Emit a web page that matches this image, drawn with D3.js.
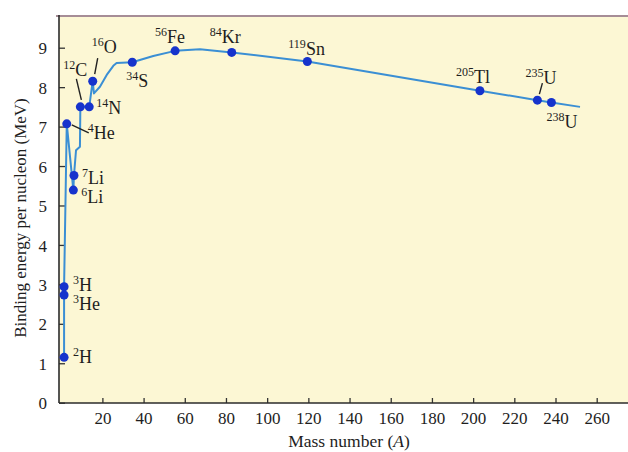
<!DOCTYPE html>
<html>
<head>
<meta charset="utf-8">
<script src="https://cdn.jsdelivr.net/npm/d3@7/dist/d3.min.js"></script>
<style>
  html, body { margin: 0; padding: 0; background: #ffffff; }
  svg { display: block; }
  text { font-family: "Liberation Serif", "Times New Roman", serif; fill: #1e1e1e; }
</style>
</head>
<body>
<svg id="chart" width="628" height="452"></svg>
<script>
// ---- data ----
const symbols     = ["H", "H", "He", "He", "Li", "Li", "C", "N", "O", "S", "Fe", "Kr", "Sn", "Tl", "U", "U"];
const massNumbers = ["2", "3", "3", "4", "6", "7", "12", "14", "16", "34", "56", "84", "119", "205", "235", "238"];
const pointA      = [1.4, 1.4, 1.4, 2.7, 5.9, 6.2, 9.3, 13.6, 15.3, 34.5, 55.3, 82.8, 119.5, 203.3, 231.2, 238.0];
const pointBE     = [1.15, 2.94, 2.73, 7.07, 5.39, 5.76, 7.50, 7.50, 8.15, 8.63, 8.92, 8.88, 8.65, 7.91, 7.67, 7.61];

// binding-energy curve traced through the nuclides
const curveA  = [1.4, 1.4, 1.4, 2.7, 5.9, 6.2, 7.2, 9.1, 9.3, 13.6, 15.3, 15.9, 18.8, 22.1, 25.3, 26.9, 34.5, 44.7, 55.3, 67.4, 82.8, 119.5, 203.3, 231.2, 238.0, 251.9];
const curveBE = [1.15, 2.73, 2.94, 7.07, 5.39, 5.76, 6.40, 6.49, 7.50, 7.50, 8.15, 7.84, 8.01, 8.31, 8.54, 8.61, 8.63, 8.79, 8.92, 8.96, 8.88, 8.65, 7.91, 7.67, 7.61, 7.50];

const xTicks = [20, 40, 60, 80, 100, 120, 140, 160, 180, 200, 220, 240, 260];
const yTicks = [0, 1, 2, 3, 4, 5, 6, 7, 8, 9];

const xTitle = "Mass number (";
const xTitleVar = "A";
const yTitle = "Binding energy per nucleon (MeV)";

// ---- layout (label offsets from their dot, in px) ----
const labelDX = [9, 9, 9, 21, 8, 8, -17, 7, -1, -6, -20, -22, -19, -24, -12, -5];
const labelDY = [6, 4, 15, 15, 13, 8, -31, 7, -28, 25, -8, -9, -7, -8, -16, 25];
// leader lines: [index, x1, y1, x2, y2] relative to dot
const leaders = [
  [3, 5, 1, 22, 9],
  [6, -4, -28, 1, -7],
  [8, 5, -23, 2, -7],
  [14, 5, -17, 2, -6]
];

const svg = d3.select("#chart");
const W = 628, H = 452;
const plotLeft = 59, plotTop = 16, plotBottom = 403;

const x = d3.scaleLinear().domain([0, 260]).range([61.2, 596.7]);
const y = d3.scaleLinear().domain([0, 9]).range([402.7, 47.7]);

// plot background
svg.append("rect").attr("x", plotLeft).attr("y", plotTop).attr("width", W - plotLeft).attr("height", plotBottom - plotTop)
  .attr("fill", "#fcf7d4");

// top border
svg.append("line").attr("x1", plotLeft - 3).attr("x2", W).attr("y1", plotTop).attr("y2", plotTop)
  .attr("stroke", "#a68d96").attr("stroke-width", 2);

// axes
const xAxis = d3.axisBottom(x).tickValues(xTicks).tickSizeInner(-5).tickSizeOuter(0).tickPadding(9);
const gx = svg.append("g").attr("transform", `translate(0,${plotBottom})`).call(xAxis);
gx.select(".domain").remove();
gx.selectAll(".tick line").attr("stroke", "#333").attr("stroke-width", 1.3);
gx.selectAll(".tick text").attr("font-size", 17).attr("font-family", "Liberation Serif").attr("fill", "#1e1e1e");

const yAxis = d3.axisLeft(y).tickValues(yTicks).tickSizeInner(-6).tickSizeOuter(0).tickPadding(12);
const gy = svg.append("g").attr("transform", `translate(${plotLeft},0)`).call(yAxis);
gy.select(".domain").remove();
gy.selectAll(".tick line").attr("stroke", "#333").attr("stroke-width", 1.3);
gy.selectAll(".tick text").attr("font-size", 17).attr("font-family", "Liberation Serif").attr("fill", "#1e1e1e")
  .attr("dy", "0.36em");

svg.append("line").attr("x1", plotLeft).attr("x2", plotLeft).attr("y1", plotTop - 1).attr("y2", plotBottom)
  .attr("stroke", "#2b2b2b").attr("stroke-width", 1.6);
svg.append("line").attr("x1", plotLeft).attr("x2", W).attr("y1", plotBottom).attr("y2", plotBottom)
  .attr("stroke", "#2b2b2b").attr("stroke-width", 1.6);

// axis titles
const xt = svg.append("text").attr("x", 349).attr("y", 447).attr("text-anchor", "middle").attr("font-size", 17.5);
xt.append("tspan").text(xTitle);
xt.append("tspan").attr("font-style", "italic").text(xTitleVar);
xt.append("tspan").text(")");

svg.append("text").attr("transform", "translate(26,218) rotate(-90)").attr("text-anchor", "middle")
  .attr("font-size", 17).text(yTitle);

// curve
const curvePts = curveA.map((a, i) => [a, curveBE[i]]);
const line = d3.line().x(d => x(d[0])).y(d => y(d[1])).curve(d3.curveLinear);
svg.append("path").datum(curvePts).attr("d", line).attr("fill", "none")
  .attr("stroke", "#3b8fd4").attr("stroke-width", 2).attr("stroke-linejoin", "round");

// leader lines
leaders.forEach(([i, x1, y1, x2, y2]) => {
  const cx = x(pointA[i]), cy = y(pointBE[i]);
  svg.append("line").attr("x1", cx + x1).attr("y1", cy + y1).attr("x2", cx + x2).attr("y2", cy + y2)
    .attr("stroke", "#222").attr("stroke-width", 1.4);
});

// dots
const pts = pointA.map((a, i) => ({ a, be: pointBE[i], i }));
svg.append("g").selectAll("circle").data(pts).join("circle")
  .attr("cx", d => x(d.a)).attr("cy", d => y(d.be)).attr("r", 4.5).attr("fill", "#1633cc");

// labels
const lab = svg.append("g").selectAll("text").data(pts).join("text")
  .attr("x", d => x(d.a) + labelDX[d.i]).attr("y", d => y(d.be) + labelDY[d.i]);
lab.append("tspan").attr("font-size", 12).attr("dy", -7).text(d => massNumbers[d.i]);
lab.append("tspan").attr("font-size", 18).attr("dy", 7).text(d => symbols[d.i]);
</script>
</body>
</html>
